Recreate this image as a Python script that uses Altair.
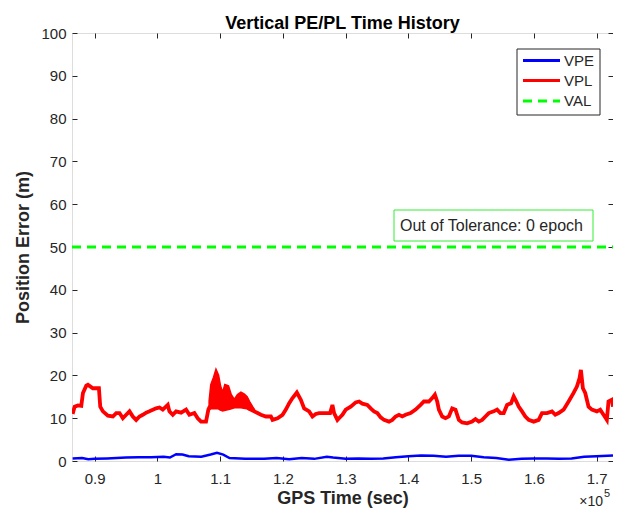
import altair as alt
import pandas as pd

FONT = "Liberation Sans"
AX = "#262626"

# ---------------- data ----------------
x_ticks = [90000, 100000, 110000, 120000, 130000, 140000, 150000, 160000, 170000]
y_ticks = [0, 10, 20, 30, 40, 50, 60, 70, 80, 90, 100]
x_domain = [86400, 172600]
y_domain = [0, 100]

vpl_time = [86500, 86820, 87350, 87880, 88145, 88675, 88940, 89735, 90690, 90900,
            91325, 92120, 92915, 93445, 93975, 94505, 95035, 95565, 96095, 96625,
            97155, 97685, 98215, 98745, 99805, 100335, 100865, 101660, 101925, 102455,
            102985, 103780, 104575, 105105, 105900, 106430, 106960, 107755, 108126, 108285,
            108975, 109720, 110405, 111305, 112260, 113320, 114275, 115175, 115440, 115970,
            116500, 117295, 118090, 118355, 119150, 119945, 120475, 121005, 121535, 122225,
            122860, 123390, 124185, 124715, 125245, 125775, 126570, 127525, 127895, 128160,
            128690, 129220, 129485, 130015, 130810, 131605, 132135, 132665, 133460, 133990,
            134520, 135050, 135580, 136110, 136905, 137435, 137965, 138495, 139025, 139555,
            140350, 141145, 141940, 142470, 143265, 143795, 144220, 144590, 144855, 145385,
            145915, 146445, 146975, 147505, 148035, 148565, 149360, 150155, 150685, 151215,
            151745, 152275, 152805, 153600, 154130, 154660, 155190, 155720, 156356, 156780,
            157204, 157575, 158105, 158635, 159165, 159960, 160755, 161285, 162080, 162875,
            163405, 163935, 164730, 165525, 166320, 166850, 167274, 167486, 167804, 168175,
            168705, 169235, 170030, 170560, 171090, 171620, 171885, 172415, 172600]
vpl_value = [11.0, 12.7, 13.0, 12.9, 15.9, 17.6, 17.8, 17.0, 17.0, 12.7,
             11.6, 10.6, 10.4, 11.2, 11.2, 10.0, 10.8, 11.6, 10.4, 9.6,
             10.4, 10.8, 11.3, 11.6, 12.3, 12.5, 12.0, 13.1, 11.6, 10.8,
             11.6, 11.3, 12.0, 10.8, 11.2, 10.0, 9.2, 9.2, 12.0, 12.5,
             12.5, 12.5, 12.0, 12.3, 12.7, 12.7, 12.5, 11.8, 11.6, 11.2,
             10.8, 10.4, 10.4, 9.6, 10.0, 10.8, 12.0, 13.5, 14.7, 16.0,
             14.3, 12.3, 11.6, 10.4, 11.0, 11.2, 11.2, 11.2, 13.1, 11.2,
             9.6, 10.4, 10.8, 12.0, 12.7, 13.7, 13.9, 13.4, 13.1, 12.3,
             11.6, 11.2, 10.2, 9.6, 9.2, 9.6, 10.4, 10.8, 10.4, 10.8,
             11.2, 12.0, 13.1, 13.9, 13.9, 14.7, 15.5, 13.9, 12.0, 10.4,
             10.0, 10.4, 12.3, 12.0, 9.6, 9.0, 8.8, 9.2, 9.8, 9.2,
             9.6, 10.4, 11.2, 11.6, 12.0, 11.2, 11.2, 13.1, 13.5, 15.1,
             13.9, 12.7, 11.6, 10.4, 9.6, 9.2, 9.6, 11.2, 11.2, 11.6,
             10.8, 11.2, 12.0, 13.9, 15.9, 17.4, 19.4, 21.3, 17.0, 15.9,
             12.7, 12.0, 11.6, 12.0, 10.8, 9.6, 13.9, 14.3, 12.7]

# oscillating VPL segment around 1.1e5 s (upper / lower envelope)
band_time = [108285, 108550, 108975, 109345, 109720, 110035, 110405, 110775, 111305,
             111730, 112260, 112790, 113320, 113850, 114275, 114645, 115175, 115440]
band_top = [14.0, 17.8, 19.5, 21.3, 20.0, 17.5, 15.9, 17.8, 17.5,
            15.5, 14.3, 15.5, 16.0, 15.6, 15.0, 13.9, 12.6, 12.0]
band_bottom = [12.0, 12.5, 12.5, 12.7, 12.5, 12.0, 12.0, 12.3, 12.3,
               12.3, 12.7, 12.7, 12.7, 12.7, 12.5, 12.0, 11.8, 11.6]

vpe_time = [86500, 88000, 89000, 90000, 92000, 95000, 97000, 99000, 101000, 102000,
            103000, 104000, 105000, 107000, 108500, 109500, 110500, 111500, 114000, 117000,
            119000, 121000, 123000, 125000, 127000, 128000, 130000, 132000, 134000, 136000,
            138000, 140000, 142000, 144000, 146000, 148000, 150000, 152000, 154000, 156000,
            158000, 160000, 162000, 164000, 166000, 168000, 170000, 172600]
vpe_value = [0.6, 0.7, 0.4, 0.5, 0.6, 0.8, 0.9, 0.9, 1.0, 0.8,
             1.6, 1.5, 1.1, 1.0, 1.5, 1.9, 1.5, 0.7, 0.5, 0.5,
             0.7, 0.4, 0.7, 0.5, 1.0, 0.8, 0.5, 0.6, 0.5, 0.6,
             0.9, 1.1, 1.3, 1.2, 1.0, 1.2, 1.2, 0.9, 0.7, 0.3,
             0.5, 0.6, 0.6, 0.5, 0.6, 1.0, 1.1, 1.3]

val_time = [86400, 172600]
val_value = [50, 50]

series_names = ["VPE", "VPL", "VAL"]
series_colors = ["#0000ff", "#ff0000", "#00ff00"]
annotation_text = "Out of Tolerance: 0 epoch"
title_text = "Vertical PE/PL Time History"
x_title = "GPS Time (sec)"
y_title = "Position Error (m)"

# ---------------- chart ----------------
W, H = 541, 428

df_vpl = pd.DataFrame({"t": vpl_time, "v": vpl_value})
df_band = pd.DataFrame({"t": band_time, "top": band_top, "bottom": band_bottom})
df_vpe = pd.DataFrame({"t": vpe_time, "v": vpe_value})
df_val = pd.DataFrame({"t": val_time, "v": val_value})
one = pd.DataFrame({"a": [0]})

xs = alt.Scale(domain=x_domain, nice=False, zero=False)
ys = alt.Scale(domain=y_domain, nice=False, zero=False)


def tick_axis(orient, values):
    return alt.Axis(orient=orient, values=values, offset=-5, tickSize=5, tickWidth=1,
                    tickColor=AX, labels=False, domain=False, grid=False, title=None)


x_main = alt.Axis(orient="bottom", values=x_ticks,
                  labelExpr="format(datum.value / 100000, '~g')",
                  ticks=False, domain=False, grid=False,
                  labelFont=FONT, labelFontSize=15, labelColor=AX, labelPadding=10,
                  title=x_title, titleFont=FONT, titleFontSize=18,
                  titleFontWeight="bold", titleColor=AX, titlePadding=3)
y_main = alt.Axis(orient="left", values=y_ticks, ticks=False, domain=False, grid=False,
                  labelFont=FONT, labelFontSize=15, labelColor=AX, labelPadding=6,
                  title=y_title, titleFont=FONT, titleFontSize=18,
                  titleFontWeight="bold", titleColor=AX, titlePadding=8)

vpe = alt.Chart(df_vpe).mark_line(color=series_colors[0], strokeWidth=2.5, clip=True).encode(
    x=alt.X("t:Q", scale=xs, axis=x_main),
    y=alt.Y("v:Q", scale=ys, axis=y_main),
)
vpl = alt.Chart(df_vpl).mark_line(color=series_colors[1], strokeWidth=3.8, clip=True).encode(
    x=alt.X("t:Q", scale=xs, axis=tick_axis("bottom", x_ticks)),
    y=alt.Y("v:Q", scale=ys, axis=tick_axis("left", y_ticks)),
)
band = alt.Chart(df_band).mark_area(color=series_colors[1], stroke=series_colors[1],
                                    strokeWidth=2, opacity=1, clip=True).encode(
    x=alt.X("t:Q", scale=xs, axis=None),
    y=alt.Y("top:Q", scale=ys, axis=None),
    y2="bottom:Q",
)
val = alt.Chart(df_val).mark_line(color=series_colors[2], strokeWidth=3,
                                  strokeDash=[9, 6], clip=True).encode(
    x=alt.X("t:Q", scale=xs, axis=tick_axis("top", x_ticks)),
    y=alt.Y("v:Q", scale=ys, axis=tick_axis("right", y_ticks)),
)

# annotation box
ann_box = alt.Chart(one).mark_rect(fill="white", stroke="#33ee33", strokeWidth=1).encode(
    x=alt.value(322), x2=alt.value(521), y=alt.value(177), y2=alt.value(208))
ann_text = alt.Chart(one).mark_text(align="left", baseline="middle", font=FONT,
                                    fontSize=16, color=AX).encode(
    x=alt.value(328), y=alt.value(193), text=alt.value(annotation_text))

# legend
leg_box = alt.Chart(one).mark_rect(fill="white", stroke=AX, strokeWidth=1).encode(
    x=alt.value(445), x2=alt.value(528), y=alt.value(16), y2=alt.value(82))
legend_layers = [leg_box]
leg_y = [27.5, 47.5, 68]
for name, col, yy in zip(series_names, series_colors, leg_y):
    kw = {"strokeDash": [9, 6]} if name == "VAL" else {}
    legend_layers.append(
        alt.Chart(one).mark_rule(color=col, strokeWidth=3, **kw).encode(
            x=alt.value(451), x2=alt.value(488), y=alt.value(yy)))
    legend_layers.append(
        alt.Chart(one).mark_text(align="left", baseline="middle", font=FONT,
                                 fontSize=15, color=AX).encode(
            x=alt.value(492), y=alt.value(yy), text=alt.value(name)))

# x10^5 exponent label
exp_base = alt.Chart(one).mark_text(align="right", baseline="middle", font=FONT,
                                    fontSize=14, color=AX).encode(
    x=alt.value(531), y=alt.value(469), text=alt.value("\u00d710"))
exp_pow = alt.Chart(one).mark_text(align="left", baseline="middle", font=FONT,
                                   fontSize=11, color=AX).encode(
    x=alt.value(532), y=alt.value(461), text=alt.value("5"))

chart = alt.layer(
    vpe, vpl, band, val, ann_box, ann_text, *legend_layers, exp_base, exp_pow
).resolve_axis(x="independent", y="independent").properties(
    width=W, height=H,
    autosize=alt.AutoSizeParams(type="none"),
    padding={"left": 64, "top": 25, "right": 0, "bottom": 47},
    title=alt.Title(title_text, font=FONT, fontSize=18, fontWeight="bold",
                    color="#000000", anchor="middle", offset=0, dy=7),
).configure_view(stroke=AX, strokeWidth=1).configure(background="white")

chart.save("out.html", embed_options={"renderer": "svg", "actions": False})
